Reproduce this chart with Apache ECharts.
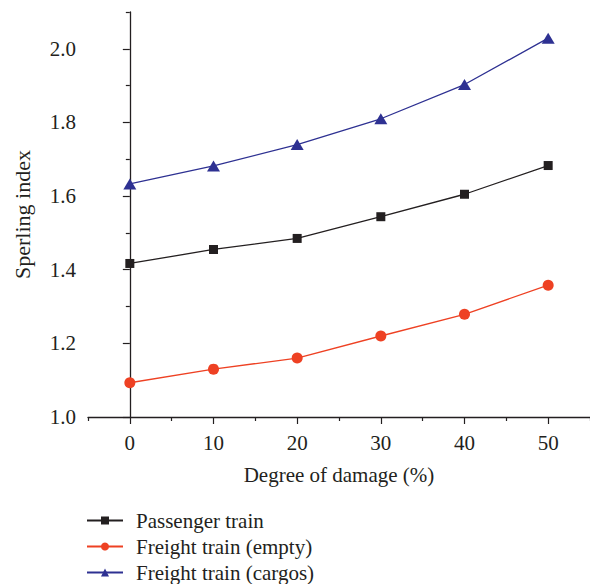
<!DOCTYPE html>
<html>
<head>
<meta charset="utf-8">
<script src="https://cdn.jsdelivr.net/npm/echarts@6/dist/echarts.min.js"></script>
<style>
  html, body { margin: 0; padding: 0; background: #fff; }
  #chart { width: 590px; height: 584px; }
</style>
</head>
<body>
<div id="chart"></div>
<script>
// Degree of damage (%) on the x axis
const damage = [0, 10, 20, 30, 40, 50];
// Sperling index per train type
const passengerTrain = [1.417, 1.455, 1.485, 1.544, 1.605, 1.683];
const freightEmpty = [1.093, 1.130, 1.160, 1.220, 1.279, 1.358];
const freightCargos = [1.633, 1.682, 1.740, 1.810, 1.903, 2.029];
// Axis tick positions
const xMajorTicks = [0, 10, 20, 30, 40, 50];
const xMinorTicks = [-5, 5, 15, 25, 35, 45, 55];
const yMajorTicks = [1.0, 1.2, 1.4, 1.6, 1.8, 2.0];
const yMinorTicks = [1.1, 1.3, 1.5, 1.7, 1.9, 2.1];

const ink = '#231f20';
const font = 'Liberation Serif';

const chart = echarts.init(document.getElementById('chart'), null, { renderer: 'svg' });

const pairs = arr => damage.map((d, i) => [d, arr[i]]);

chart.setOption({
  animation: false,
  backgroundColor: '#fff',
  textStyle: { fontFamily: font, color: ink },
  grid: { left: 88, top: 12, right: 0, bottom: 167, containLabel: false },
  legend: {
    orient: 'vertical',
    left: 81,
    top: 505,
    height: 100,
    itemWidth: 36,
    itemHeight: 10,
    itemGap: 5,
    textStyle: { fontFamily: font, fontSize: 21, lineHeight: 21, color: ink, padding: [0, 0, 0, 8] },
    data: ['Passenger train', 'Freight train (empty)', 'Freight train (cargos)']
  },
  xAxis: [
    {
      type: 'value',
      min: -5,
      max: 55,
      name: 'Degree of damage (%)',
      nameLocation: 'middle',
      nameGap: 47,
      nameTextStyle: { fontFamily: font, fontSize: 21, color: ink },
      axisLine: { show: true, lineStyle: { color: ink, width: 1.3 } },
      axisTick: { show: true, length: 7, lineStyle: { color: ink, width: 1.2 }, customValues: xMajorTicks },
      axisLabel: { fontFamily: font, fontSize: 21, color: ink, margin: 15, customValues: xMajorTicks },
      splitLine: { show: false }
    },
    {
      type: 'value',
      min: -5,
      max: 55,
      position: 'bottom',
      axisLine: { show: false },
      axisTick: { show: true, length: 4, lineStyle: { color: ink, width: 1.2 }, customValues: xMinorTicks },
      axisLabel: { show: false },
      splitLine: { show: false }
    }
  ],
  yAxis: [
    {
      type: 'value',
      min: 1.0,
      max: 2.1,
      name: 'Sperling index',
      nameLocation: 'middle',
      nameGap: 55,
      nameTextStyle: { fontFamily: font, fontSize: 22, color: ink },
      axisLine: { show: true, lineStyle: { color: ink, width: 1.3 } },
      axisTick: { show: true, length: 7, lineStyle: { color: ink, width: 1.2 }, customValues: yMajorTicks },
      axisLabel: {
        fontFamily: font, fontSize: 21, color: ink, margin: 12,
        customValues: yMajorTicks,
        formatter: v => v.toFixed(1)
      },
      splitLine: { show: false }
    },
    {
      type: 'value',
      min: 1.0,
      max: 2.1,
      position: 'left',
      axisLine: { show: false },
      axisTick: { show: true, length: 4, lineStyle: { color: ink, width: 1.2 }, customValues: yMinorTicks },
      axisLabel: { show: false },
      splitLine: { show: false }
    }
  ],
  series: [
    {
      name: 'Passenger train',
      type: 'line',
      data: pairs(passengerTrain),
      symbol: 'rect',
      symbolSize: 9,
      itemStyle: { color: ink },
      lineStyle: { color: ink, width: 1.3 }
    },
    {
      name: 'Freight train (empty)',
      type: 'line',
      data: pairs(freightEmpty),
      symbol: 'circle',
      symbolSize: 11,
      itemStyle: { color: '#ee4123' },
      lineStyle: { color: '#ee4123', width: 1.3 }
    },
    {
      name: 'Freight train (cargos)',
      type: 'line',
      data: pairs(freightCargos),
      symbol: 'triangle',
      symbolSize: [13, 11],
      itemStyle: { color: '#2e3192' },
      lineStyle: { color: '#2e3192', width: 1.3 }
    }
  ]
});
</script>
</body>
</html>
